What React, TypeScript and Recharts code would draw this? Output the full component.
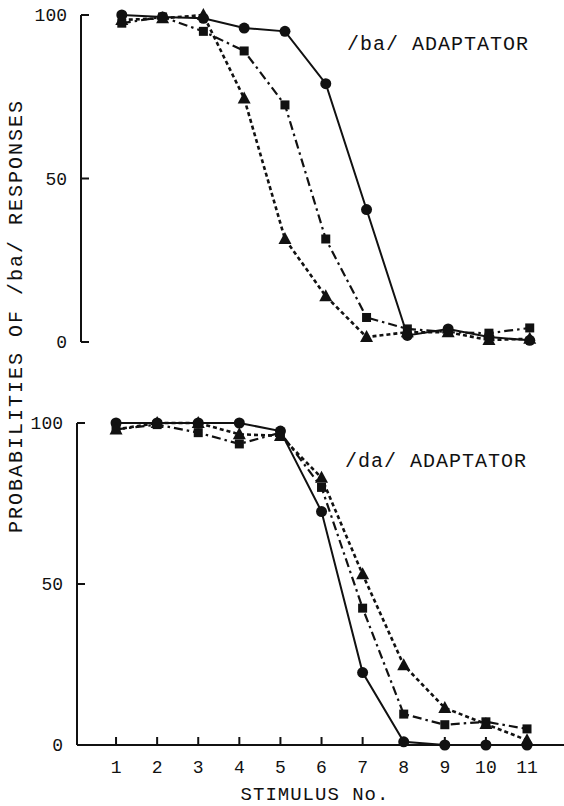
import { LineChart, Line, XAxis, YAxis } from "recharts";

const stimuli = [1, 2, 3, 4, 5, 6, 7, 8, 9, 10, 11];
const yTicks = [0, 50, 100];
const xTicks = [1, 2, 3, 4, 5, 6, 7, 8, 9, 10, 11];

// top panel: /ba/ adaptator
const baCircle = [100, 99.4, 99, 96, 95, 79, 40.5, 2, 4, 1.5, 0.5];
const baSquare = [97.5, 99.4, 95, 89, 72.5, 31.5, 7.5, 4, 3, 2.7, 4.3];
const baTriangle = [98.5, 99, 100, 74.5, 31.5, 14, 1.5, 3, 3, 0.6, 1];

// bottom panel: /da/ adaptator
const daCircle = [100, 100, 100, 100, 97.5, 72.5, 22.5, 1, 0, 0, 0];
const daSquare = [98, 99.5, 97, 93.5, 97, 80, 42.5, 9.6, 6.3, 7.2, 5];
const daTriangle = [98, 100, 100, 96.5, 96, 83, 53, 24.8, 11.5, 6.5, 1.5];

const INK = "#111";
const FONT = "'Liberation Mono', 'DejaVu Sans Mono', monospace";

const toRows = (c: number[], s: number[], t: number[]) =>
  stimuli.map((x, i) => ({ x, circle: c[i], square: s[i], triangle: t[i] }));

const topData = toRows(baCircle, baSquare, baTriangle);
const bottomData = toRows(daCircle, daSquare, daTriangle);

const circleDot = (p: any) => (
  <circle key={`c${p.index}`} cx={p.cx} cy={p.cy} r={5.5} fill={INK} stroke="none" />
);
const squareDot = (p: any) => (
  <rect key={`s${p.index}`} x={p.cx - 4.5} y={p.cy - 4.5} width={9} height={9} fill={INK} />
);
const triangleDot = (p: any) => (
  <polygon
    key={`t${p.index}`}
    points={`${p.cx},${p.cy - 7} ${p.cx - 6.5},${p.cy + 5} ${p.cx + 6.5},${p.cy + 5}`}
    fill={INK}
  />
);

// y ticks point inward (to the right), labels on the left
const YTick = (p: any) => (
  <g>
    <line x1={p.x} y1={p.y} x2={p.x + 8} y2={p.y} stroke={INK} strokeWidth={2} />
    <text
      x={p.x - 14}
      y={p.y + 6}
      textAnchor="end"
      fontFamily={FONT}
      fontSize={18}
      fill={INK}
    >
      {p.payload.value}
    </text>
  </g>
);

// x ticks point upward, labels below
const XTick = (p: any) => (
  <g>
    <line x1={p.x} y1={p.y} x2={p.x} y2={p.y - 8} stroke={INK} strokeWidth={2} />
    <text
      x={p.x}
      y={p.y + 28}
      textAnchor="middle"
      fontFamily={FONT}
      fontSize={18}
      fill={INK}
    >
      {p.payload.value}
    </text>
  </g>
);

function Series() {
  return [
    <Line
      key="circle"
      dataKey="circle"
      stroke={INK}
      strokeWidth={2}
      dot={circleDot}
      activeDot={false}
      isAnimationActive={false}
    />,
    <Line
      key="square"
      dataKey="square"
      stroke={INK}
      strokeWidth={2.2}
      strokeDasharray="9 4 2.5 4"
      dot={squareDot}
      activeDot={false}
      isAnimationActive={false}
    />,
    <Line
      key="triangle"
      dataKey="triangle"
      stroke={INK}
      strokeWidth={2.6}
      strokeDasharray="4 3"
      dot={triangleDot}
      activeDot={false}
      isAnimationActive={false}
    />,
  ];
}

export default function App() {
  return (
    <div
      style={{
        position: "absolute",
        left: 0,
        top: 0,
        width: 564,
        height: 806,
        background: "#fff",
        overflow: "hidden",
      }}
    >
      {/* top panel */}
      <div style={{ position: "absolute", left: 0, top: 0 }}>
        <LineChart
          width={564}
          height={360}
          data={topData}
          margin={{ top: 15, right: 0, bottom: 18, left: 0 }}
        >
          <XAxis dataKey="x" type="number" domain={[0, 11.84]} hide />
          <YAxis
            type="number"
            domain={[0, 100]}
            ticks={yTicks}
            width={81}
            tickSize={0}
            tickMargin={0}
            tickLine={false}
            axisLine={{ stroke: INK, strokeWidth: 2 }}
            tick={YTick}
          />
          {Series()}
        </LineChart>
      </div>

      {/* bottom panel */}
      <div style={{ position: "absolute", left: 0, top: 0 }}>
        <LineChart
          width={564}
          height={806}
          data={bottomData}
          margin={{ top: 423, right: 0, bottom: 0, left: 0 }}
        >
          <XAxis
            dataKey="x"
            type="number"
            domain={[0.05, 11.9]}
            ticks={xTicks}
            height={61}
            tickSize={0}
            tickMargin={0}
            tickLine={false}
            axisLine={{ stroke: INK, strokeWidth: 2 }}
            tick={XTick}
          />
          <YAxis
            type="number"
            domain={[0, 100]}
            ticks={yTicks}
            width={77}
            tickSize={0}
            tickMargin={0}
            tickLine={false}
            axisLine={{ stroke: INK, strokeWidth: 2 }}
            tick={YTick}
          />
          {Series()}
        </LineChart>
      </div>

      {/* labels */}
      <svg
        width={564}
        height={806}
        style={{ position: "absolute", left: 0, top: 0, pointerEvents: "none" }}
      >
        <text
          x={347}
          y={50}
          fontFamily={FONT}
          fontSize={20}
          letterSpacing={1}
          fill={INK}
        >
          /ba/ ADAPTATOR
        </text>
        <text
          x={345}
          y={467}
          fontFamily={FONT}
          fontSize={20}
          letterSpacing={1}
          fill={INK}
        >
          /da/ ADAPTATOR
        </text>
        <text
          x={315}
          y={800}
          textAnchor="middle"
          fontFamily={FONT}
          fontSize={19}
          letterSpacing={1}
          fill={INK}
        >
          STIMULUS No.
        </text>
        <text
          transform="translate(22, 316) rotate(-90)"
          textAnchor="middle"
          fontFamily={FONT}
          fontSize={20}
          letterSpacing={2}
          fill={INK}
        >
          PROBABILITIES OF /ba/ RESPONSES
        </text>
      </svg>
    </div>
  );
}
